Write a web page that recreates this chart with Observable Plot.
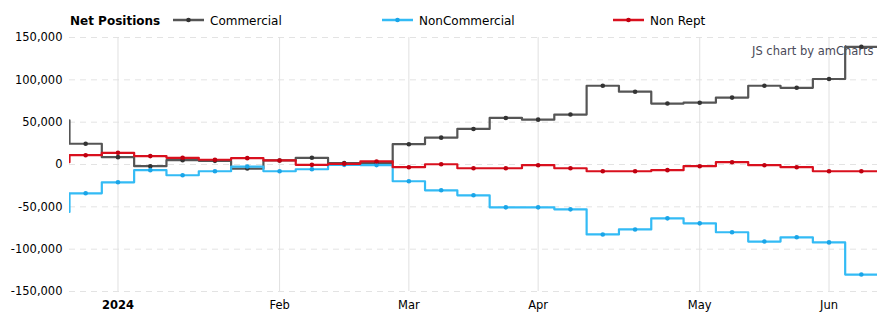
<!DOCTYPE html>
<html><head><meta charset="utf-8">
<script src="https://cdn.jsdelivr.net/npm/d3@7"></script>
<script src="https://cdn.jsdelivr.net/npm/@observablehq/plot@0.6"></script>
<style>
body{margin:0;background:#fff;font-family:"DejaVu Sans",Verdana,sans-serif;}
#wrap{position:relative;width:894px;height:325px;overflow:hidden;}
#legend{position:relative;height:28px;font-size:12px;color:#000;}
.it{position:absolute;top:14px;line-height:14px;height:14px;white-space:nowrap;}
.sw{position:absolute;top:13px;}
</style></head>
<body><div id="wrap"><div id="legend"></div><div id="chart"></div></div>
<script>
// Weekly report dates (first one sits just left of the visible window)
const dates = ["2023-12-19","2023-12-26","2024-01-02","2024-01-09","2024-01-16","2024-01-23","2024-01-30",
  "2024-02-06","2024-02-13","2024-02-20","2024-02-27","2024-03-05","2024-03-12","2024-03-19","2024-03-26",
  "2024-04-02","2024-04-09","2024-04-16","2024-04-23","2024-04-30","2024-05-07","2024-05-14","2024-05-21",
  "2024-05-28","2024-06-04","2024-06-11"];
const commercial = [52000,24500,8700,-2000,5100,4300,-4800,4800,7900,1600,2000,24000,31700,42000,55000,53000,
  59000,93000,86000,72000,73000,79000,93000,90600,101000,139000];
const nonCommercial = [-56000,-34000,-21000,-6700,-12700,-8000,-2400,-8000,-5600,-400,-700,-19800,-30500,-36400,
  -50600,-50600,-53000,-82600,-76700,-63600,-69500,-80000,-91000,-86000,-92000,-130000];
const nonRept = [2800,11000,13800,9900,7900,5600,7500,4800,-400,800,3600,-3200,300,-4400,-4400,-800,-4400,
  -8000,-8000,-6700,-2000,2700,-800,-3200,-8000,-8000];
const seriesNames = ["Commercial","NonCommercial","Non Rept"];
const seriesColors = ["#555555","#33bbf5","#d9101e"];
const pointColors = ["#333333","#1aa5e8","#c00010"];
const yTicks = [-150000,-100000,-50000,0,50000,100000,150000];
const monthNames = ["Jan","Feb","Mar","Apr","May","Jun","Jul","Aug","Sep","Oct","Nov","Dec"];
const watermark = "JS chart by amCharts";
const legendTitle = "Net Positions";

const parse = d3.utcParse("%Y-%m-%d");
const dd = dates.map(parse);
const values = [commercial, nonCommercial, nonRept];
const rows = [];
values.forEach((arr, s) => arr.forEach((v, k) => rows.push({i: k - 1, date: dd[k], series: seriesNames[s], value: v})));

// month-start tick indices (first report of each month within the visible window)
const monthTicks = [];
for (let k = 1; k < dd.length; k++) {
  if (dd[k].getUTCMonth() !== dd[k-1].getUTCMonth()) monthTicks.push(k - 1);
}
const tickLabel = i => { const d = dd[i + 1]; return d.getUTCMonth() === 0 ? String(d.getUTCFullYear()) : monthNames[d.getUTCMonth()]; };
const janTicks = monthTicks.filter(i => dd[i + 1].getUTCMonth() === 0);
const otherTicks = monthTicks.filter(i => dd[i + 1].getUTCMonth() !== 0);

const marks = [
  Plot.gridY(yTicks, {stroke: "#e3e3e3", strokeOpacity: 1, strokeDasharray: "6,5"}),
  Plot.gridX(monthTicks, {stroke: "#e0e0e0", strokeOpacity: 1}),
  Plot.axisY(yTicks, {tickSize: 0, tickPadding: 7, tickFormat: d => d.toLocaleString("en-US"), fontSize: 11.5, fill: "#000", label: null}),
  Plot.axisX(janTicks, {tickSize: 0, tickPadding: 9, tickFormat: tickLabel, fontSize: 11.5, fontWeight: "bold", fill: "#000", label: null}),
  Plot.axisX(otherTicks, {tickSize: 0, tickPadding: 9, tickFormat: tickLabel, fontSize: 11.5, fill: "#000", label: null}),
  Plot.text([watermark], {frameAnchor: "top-right", dx: -4, dy: 14, lineAnchor: "middle", fontSize: 11.5, fill: "#4a4a58", textAnchor: "end"})
];
seriesNames.forEach((name, s) => {
  const data = rows.filter(r => r.series === name);
  // each weekly value holds from half a week before to half a week after its report
  marks.push(Plot.line(data, {x: d => d.i + 0.5, y: "value", curve: "step-before", stroke: seriesColors[s], strokeWidth: 2.2, clip: true}));
  marks.push(Plot.dot(data.filter(r => r.i >= 0), {x: "i", y: "value", r: 2.3, fill: pointColors[s], stroke: "none"}));
});

const chart = Plot.plot({
  width: 894, height: 297,
  marginTop: 9, marginBottom: 34, marginLeft: 69, marginRight: 17,
  style: {fontFamily: "DejaVu Sans, Verdana, sans-serif", fontSize: "11.5px", background: "#fff"},
  x: {type: "linear", domain: [-0.5, 24.5]},
  y: {domain: [-150000, 150000]},
  marks
});
document.getElementById("chart").appendChild(chart);

// legend
const lg = document.getElementById("legend");
const t = document.createElement("div");
t.className = "it"; t.style.left = "70px"; t.style.fontWeight = "bold"; t.textContent = legendTitle;
lg.appendChild(t);
const swX = [173, 382, 613];
seriesNames.forEach((name, s) => {
  const sw = document.createElementNS("http://www.w3.org/2000/svg", "svg");
  sw.setAttribute("width", 32); sw.setAttribute("height", 14);
  sw.setAttribute("class", "sw"); sw.style.left = swX[s] + "px";
  sw.innerHTML = `<line x1="0" x2="31" y1="7" y2="7" stroke="${seriesColors[s]}" stroke-width="2.5"/><circle cx="15.5" cy="7" r="2.3" fill="${pointColors[s]}"/>`;
  lg.appendChild(sw);
  const tx = document.createElement("div");
  tx.className = "it"; tx.style.left = (swX[s] + 37) + "px"; tx.textContent = name;
  lg.appendChild(tx);
});
</script></body></html>
